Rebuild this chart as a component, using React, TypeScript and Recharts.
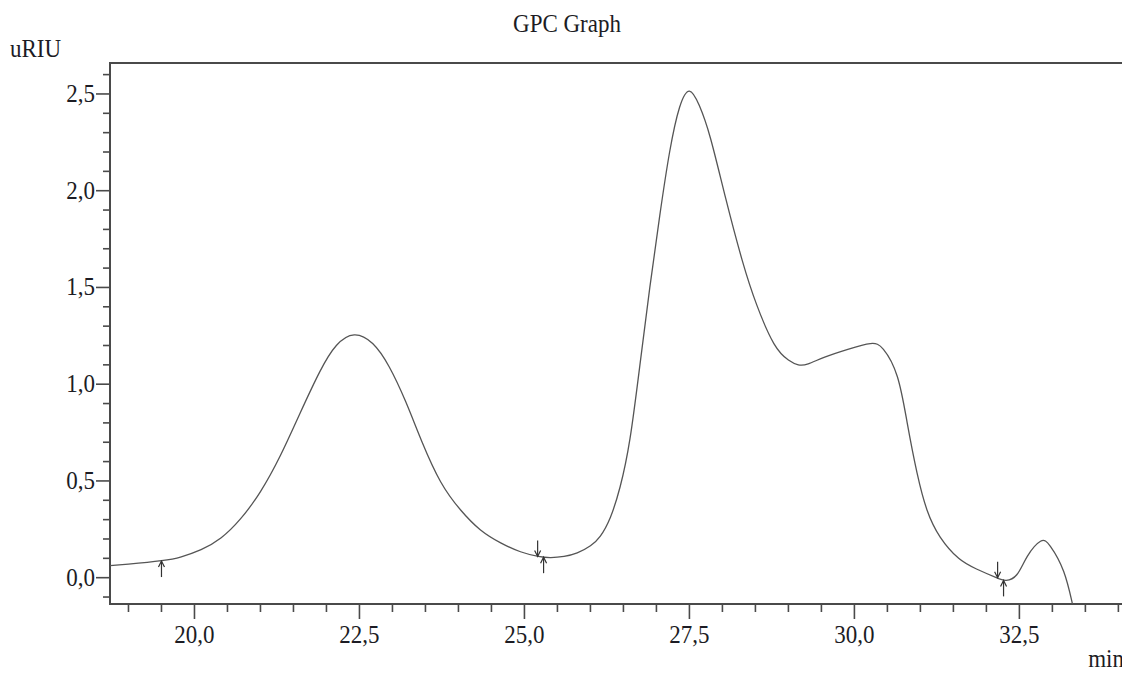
import React from "react";
import { ComposedChart, Line, Scatter, XAxis, YAxis, ReferenceArea } from "recharts";

// retention time (min) and detector response (uRIU)
const retention = [
  18.72, 19.0, 19.5, 19.8, 20.1, 20.4, 20.7, 21.0, 21.3, 21.6, 21.9, 22.15, 22.42,
  22.7, 22.95, 23.2, 23.45, 23.73, 24.03, 24.33, 24.64, 24.94, 25.21, 25.4, 25.6,
  25.8, 26.0, 26.15, 26.3, 26.45, 26.6, 26.75, 26.9, 27.05, 27.2, 27.35, 27.5,
  27.65, 27.82, 28.05, 28.3, 28.52, 28.78, 29.0, 29.15, 29.3, 29.55, 29.9, 30.24,
  30.44, 30.65, 30.8, 30.95, 31.1, 31.3, 31.58, 31.85, 32.15, 32.3, 32.46, 32.62,
  32.82, 32.97, 33.17, 33.3, 33.35,
];
const signal = [
  0.062, 0.07, 0.088, 0.108, 0.145, 0.205, 0.305, 0.445, 0.63, 0.85, 1.065, 1.2, 1.255,
  1.21, 1.09, 0.91, 0.7, 0.496, 0.351, 0.248, 0.18, 0.134, 0.11, 0.104, 0.11,
  0.128, 0.165, 0.215, 0.31, 0.47, 0.72, 1.1, 1.5, 1.87, 2.2, 2.43, 2.515,
  2.44, 2.27, 1.96, 1.64, 1.41, 1.21, 1.125, 1.1, 1.105, 1.14, 1.18, 1.21,
  1.18, 1.04, 0.8, 0.54, 0.35, 0.21, 0.1, 0.045, 0.0, -0.014, 0.015, 0.11,
  0.188, 0.162, 0.033, -0.13, -0.2,
];

// integration start/end markers
const markerTimes = [19.5, 25.2, 25.29, 32.17, 32.26];
const markerLevels = [0.086, 0.11, 0.106, 0.0, -0.014];
const markerDirs = ["up", "down", "up", "down", "up"];

const xMajor = [20, 22.5, 25, 27.5, 30, 32.5];
const yMajor = [0, 0.5, 1, 1.5, 2, 2.5];
const xTicks: number[] = [];
for (let i = 38; i <= 68; i++) xTicks.push(i / 2);
const yTicks: number[] = [];
for (let i = -1; i <= 26; i++) yTicks.push(i / 10);

const xDomain = [18.72, 34.07];
const yDomain = [-0.136, 2.66];

const trace = retention.map((t, i) => ({ t, v: signal[i] }));
const markers = markerTimes.map((t, i) => ({ t, v: markerLevels[i], dir: markerDirs[i] }));

const FONT = '"Liberation Serif", "Times New Roman", serif';
const INK = "#1c1c24";
const AXIS = "#4a4a4a";

const fmt = (v: number) => v.toFixed(1).replace(".", ",");
const isMajor = (v: number, list: number[]) => list.some((m) => Math.abs(m - v) < 1e-6);

const XTick = (props: any) => {
  const { x, y, payload } = props;
  const major = isMajor(payload.value, xMajor);
  return (
    <g>
      <line x1={x} x2={x} y1={y} y2={y + (major ? 15 : 8)} stroke={AXIS} strokeWidth={1.6} />
      {major && (
        <text
          transform={`translate(${x},${y + 39}) scale(1,1.12)`}
          textAnchor="middle"
          fontFamily={FONT}
          fontSize={23}
          fill={INK}
        >
          {fmt(payload.value)}
        </text>
      )}
    </g>
  );
};

const YTick = (props: any) => {
  const { x, y, payload } = props;
  const major = isMajor(payload.value, yMajor);
  return (
    <g>
      <line x1={x - (major ? 14 : 7)} x2={x} y1={y} y2={y} stroke={AXIS} strokeWidth={1.6} />
      {major && (
        <text
          transform={`translate(${x - 15},${y + 8}) scale(1,1.12)`}
          textAnchor="end"
          fontFamily={FONT}
          fontSize={23}
          fill={INK}
        >
          {fmt(payload.value)}
        </text>
      )}
    </g>
  );
};

const Arrow = (props: any) => {
  const { cx, cy, payload } = props;
  const s = payload.dir === "up" ? 1 : -1;
  return (
    <g stroke="#333" strokeWidth={1.2} fill="none">
      <line x1={cx} y1={cy} x2={cx} y2={cy + s * 16} />
      <polyline points={`${cx - 3},${cy + s * 6} ${cx},${cy} ${cx + 3},${cy + s * 6}`} />
    </g>
  );
};

export default function App() {
  return (
    <div style={{ position: "relative", width: 1130, height: 675, margin: -8, background: "#fff" }}>
      <ComposedChart width={1130} height={675} margin={{ top: 63, right: 7, left: 0, bottom: 0 }}>
        <XAxis
          type="number"
          dataKey="t"
          domain={xDomain}
          ticks={xTicks}
          interval={0}
          allowDataOverflow
          axisLine={false}
          tickLine={false}
          tickSize={0}
          tickMargin={0}
          height={71}
          tick={<XTick />}
        />
        <YAxis
          type="number"
          dataKey="v"
          domain={yDomain}
          ticks={yTicks}
          interval={0}
          allowDataOverflow
          axisLine={false}
          tickLine={false}
          tickSize={0}
          tickMargin={0}
          width={110}
          tick={<YTick />}
        />
        <ReferenceArea
          x1={xDomain[0]}
          x2={xDomain[1]}
          y1={yDomain[0]}
          y2={yDomain[1]}
          fill="none"
          stroke={AXIS}
          strokeWidth={2}
          ifOverflow="visible"
        />
        <Line
          data={trace}
          dataKey="v"
          type="natural"
          stroke="#555"
          strokeWidth={1.3}
          dot={false}
          isAnimationActive={false}
        />
        <Scatter data={markers} dataKey="v" shape={<Arrow />} isAnimationActive={false} />
      </ComposedChart>
      <svg
        width={1130}
        height={675}
        style={{ position: "absolute", left: 0, top: 0, pointerEvents: "none" }}
      >
        <text transform="translate(567,32) scale(1,1.12)" textAnchor="middle" fontFamily={FONT} fontSize={23} fill={INK}>
          GPC Graph
        </text>
        <text transform="translate(10,57) scale(1,1.12)" fontFamily={FONT} fontSize={23} fill={INK}>
          uRIU
        </text>
        <text transform="translate(1124,667) scale(1,1.12)" textAnchor="end" fontFamily={FONT} fontSize={23} fill={INK}>
          min
        </text>
      </svg>
    </div>
  );
}
